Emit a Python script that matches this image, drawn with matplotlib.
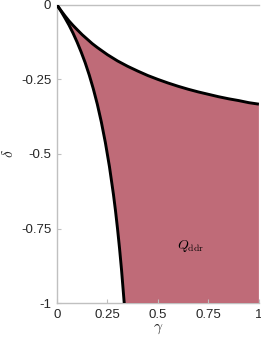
import matplotlib
matplotlib.use("Agg")
import matplotlib.pyplot as plt

plt.rcParams['font.family'] = ['Liberation Sans', 'DejaVu Sans']
plt.rcParams['mathtext.fontset'] = 'cm'

# upper boundary of the region
gamma_upper = [0.0, 0.02, 0.04, 0.06, 0.08, 0.1, 0.125, 0.15, 0.175, 0.2, 0.25,
               0.3, 0.35, 0.4, 0.45, 0.5, 0.55, 0.6, 0.65, 0.7, 0.75, 0.8,
               0.85, 0.9, 0.95, 1.0]
delta_upper = [0.0, -0.019, -0.037, -0.054, -0.069, -0.083, -0.1, -0.115,
               -0.130, -0.143, -0.167, -0.188, -0.206, -0.222, -0.237, -0.25,
               -0.262, -0.273, -0.283, -0.292, -0.3, -0.308, -0.315, -0.321,
               -0.328, -0.333]

# lower/left boundary
gamma_lower = [0.0, 0.02, 0.04, 0.06, 0.08, 0.1, 0.12, 0.14, 0.16, 0.18, 0.2,
               0.22, 0.24, 0.26, 0.28, 0.29, 0.3, 0.31, 0.32, 0.3333]
delta_lower = [0.0, -0.021, -0.044, -0.068, -0.095, -0.125, -0.158, -0.194,
               -0.235, -0.281, -0.333, -0.393, -0.462, -0.542, -0.636, -0.690,
               -0.75, -0.816, -0.889, -1.0]

xticks = [0, 0.25, 0.5, 0.75, 1]
xticklabels = ['0', '0.25', '0.5', '0.75', '1']
yticks = [-1, -0.75, -0.5, -0.25, 0]
yticklabels = ['-1', '-0.75', '-0.5', '-0.25', '0']

fill_col = '#bf6b78'
grey = '#c0c0c0'
txt = '#262626'

fig = plt.figure(figsize=(2.61, 3.46), dpi=100)
ax = fig.add_axes([0.218, 0.124, 0.774, 0.862])

# region Q_ddr: under upper curve, right of lower curve
poly_x = gamma_upper + [1.0] + gamma_lower[::-1]
poly_y = delta_upper + [-1.0] + delta_lower[::-1]
ax.fill(poly_x, poly_y, color=fill_col, lw=0, zorder=1)

ax.plot(gamma_upper, delta_upper, color='k', lw=2.1, zorder=3, solid_capstyle='butt')
ax.plot(gamma_lower, delta_lower, color='k', lw=2.1, zorder=3, solid_capstyle='butt')

ax.text(0.66, -0.81, r'$Q_{\mathrm{ddr}}$', fontsize=10, ha='center', va='center', color='k')

ax.set_xlim(0, 1)
ax.set_ylim(-1, 0)
ax.set_xticks(xticks)
ax.set_xticklabels(xticklabels)
ax.set_yticks(yticks)
ax.set_yticklabels(yticklabels)
ax.tick_params(direction='in', length=3, width=0.8, color=grey, labelcolor=txt,
               labelsize=9.5, pad=4)

for s in ['left', 'top', 'bottom']:
    ax.spines[s].set_color(grey)
    ax.spines[s].set_linewidth(1.0)
    ax.spines[s].set_zorder(0.5)
ax.spines['right'].set_visible(False)

ax.set_xlabel(r'$\gamma$', fontsize=11, color=txt, labelpad=1)
ax.set_ylabel(r'$\delta$', fontsize=11, color=txt, labelpad=4)

fig.savefig('out.png', dpi=100)
